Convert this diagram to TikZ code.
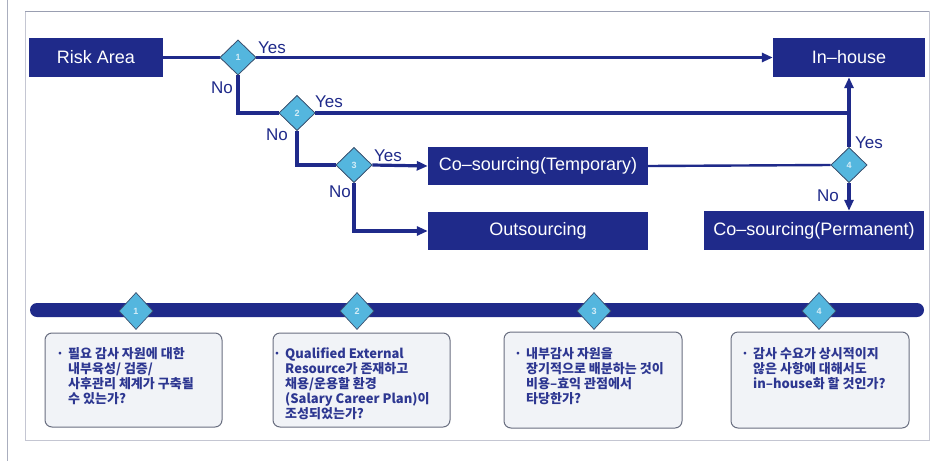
\documentclass[tikz,border=0pt]{standalone}
\usepackage{fontspec}
\setmainfont{Liberation Sans}
\newfontfamily\krfont{Noto Sans CJK KR}
\usetikzlibrary{shapes.geometric,arrows.meta}
\definecolor{navy}{RGB}{31,42,138}
\definecolor{dia}{RGB}{84,182,222}
\definecolor{diaedge}{RGB}{60,80,110}
\definecolor{frame}{RGB}{170,174,190}
\definecolor{boxfill}{RGB}{241,243,247}
\definecolor{boxedge}{RGB}{105,110,128}
\definecolor{txt}{RGB}{45,55,145}
\newcommand\bl{\makebox[9pt][l]{\hspace*{-3pt}·}}
\newcommand\ind{\hspace*{9pt}}
\tikzset{
  nbox/.style={fill=navy, text=white, minimum height=39pt, inner sep=0pt, font=\fontsize{18}{20}\selectfont},
  dmd/.style={diamond, fill=dia, draw=diaedge, line width=0.7pt, minimum width=36pt, minimum height=35pt, inner sep=0pt, text=white!75!dia, font=\fontsize{9}{9}\selectfont\bfseries},
  conn/.style={navy, line width=3.2pt},
  arr/.style={conn, -{Triangle[length=11pt,width=9pt]}},
  lbl/.style={text=navy, font=\fontsize{17}{17}\selectfont, inner sep=0pt},
  qbox/.style={draw=boxedge, fill=boxfill, line width=1pt, rounded corners=7pt},
  qtxt/.style={anchor=north west, align=left, text=txt, inner sep=0pt, font=\krfont\bfseries\fontsize{13}{15}\selectfont}
}
\begin{document}
\begin{tikzpicture}[x=1pt,y=1pt]
\useasboundingbox (0,0) rectangle (944,-461);
\fill[white] (0,0) rectangle (944,-461);
% frame
\draw[frame, line width=1pt] (7,0) -- (7,-461);
\draw[frame!70, line width=0.8pt] (25,-11) rectangle (929,-440);
\draw[frame!120, line width=1pt] (25,-11) -- (929,-11);

% boxes
\node[nbox, minimum width=134pt] (risk) at (96,-57.5) {Risk Area};
\node[nbox, minimum width=152pt] (inhouse) at (849,-57.5) {In–house};
\node[nbox, minimum width=220pt, minimum height=38pt] (temp) at (538,-166) {Co–sourcing(Temporary)};
\node[nbox, minimum width=220pt, minimum height=38pt] (out) at (538,-231) {Outsourcing};
\node[nbox, minimum width=220pt] (perm) at (814,-230.5) {Co–sourcing(Permanent)};

% decision diamonds
\node[dmd] (d1) at (238,-57.5) {1};
\node[dmd] (d2) at (297,-113) {2};
\node[dmd] (d3) at (354,-165) {3};
\node[dmd] (d4) at (849,-165) {4};

% connectors
\draw[conn] (risk.east) -- (d1.west);
\draw[arr] (d1.east) -- (inhouse.west);
\draw[conn] (d1.south) |- (d2.west);
\coordinate (j2) at (d2.east -| d4.north);
\draw[conn] (d2.east) -- (j2);
\draw[conn] (d2.south) |- (d3.west);
\draw[arr] (d3.east) -- (temp.west);
\draw[arr] (d3.south) |- (out.west);
\draw[conn, line width=2.4pt] (temp.east) -- (d4.west);
\draw[arr] (d4.north) -- (inhouse.south);
\draw[arr] (d4.south) -- (d4.south |- perm.north);
% redraw diamonds on top
\node[dmd] at (d1) {1};
\node[dmd] at (d2) {2};
\node[dmd] at (d3) {3};
\node[dmd] at (d4) {4};

% labels
\node[lbl] (y1) at (272,-48) {Yes};
\node[lbl] (y2) at (329,-102) {Yes};
\node[lbl] (y3) at (388,-156) {Yes};
\node[lbl] (y4) at (869,-143) {Yes};
\node[lbl] (n1) at (222,-88) {No};
\node[lbl] (n2) at (277,-135) {No};
\node[lbl] (n3) at (340,-192) {No};
\node[lbl] (n4) at (828,-196) {No};

% bottom bar
\fill[navy, rounded corners=7pt] (30,-303) rectangle (924,-317);
\node[dmd, minimum height=37pt, minimum width=34pt] (b1) at (136,-311) {1};
\node[dmd, minimum height=37pt, minimum width=34pt] (b2) at (357,-311) {2};
\node[dmd, minimum height=37pt, minimum width=34pt] (b3) at (594,-311) {3};
\node[dmd, minimum height=37pt, minimum width=34pt] (b4) at (819,-311) {4};

% question boxes
\draw[qbox] (45,-333) rectangle (222,-427);
\draw[qbox] (273,-333) rectangle (450,-427);
\draw[qbox] (504,-332) rectangle (682,-428);
\draw[qbox] (731,-332) rectangle (909,-428);

\node[qtxt] (t1) at (59,-347) {\bl 필요 감사 자원에 대한\\ \ind 내부육성/ 검증/\\ \ind 사후관리 체계가 구축될\\ \ind 수 있는가?};
\node[qtxt] (t2) at (276,-347) {\bl Qualified External\\ \ind Resource가 존재하고\\ \ind 채용/운용할 환경\\ \ind (Salary Career Plan)이\\ \ind 조성되었는가?};
\node[qtxt] (t3) at (517,-347) {\bl 내부감사 자원을\\ \ind 장기적으로 배분하는 것이\\ \ind 비용–효익 관점에서\\ \ind 타당한가?};
\node[qtxt] (t4) at (744,-347) {\bl 감사 수요가 상시적이지\\ \ind 않은 사항에 대해서도\\ \ind in–house화 할 것인가?};
\end{tikzpicture}
\end{document}
